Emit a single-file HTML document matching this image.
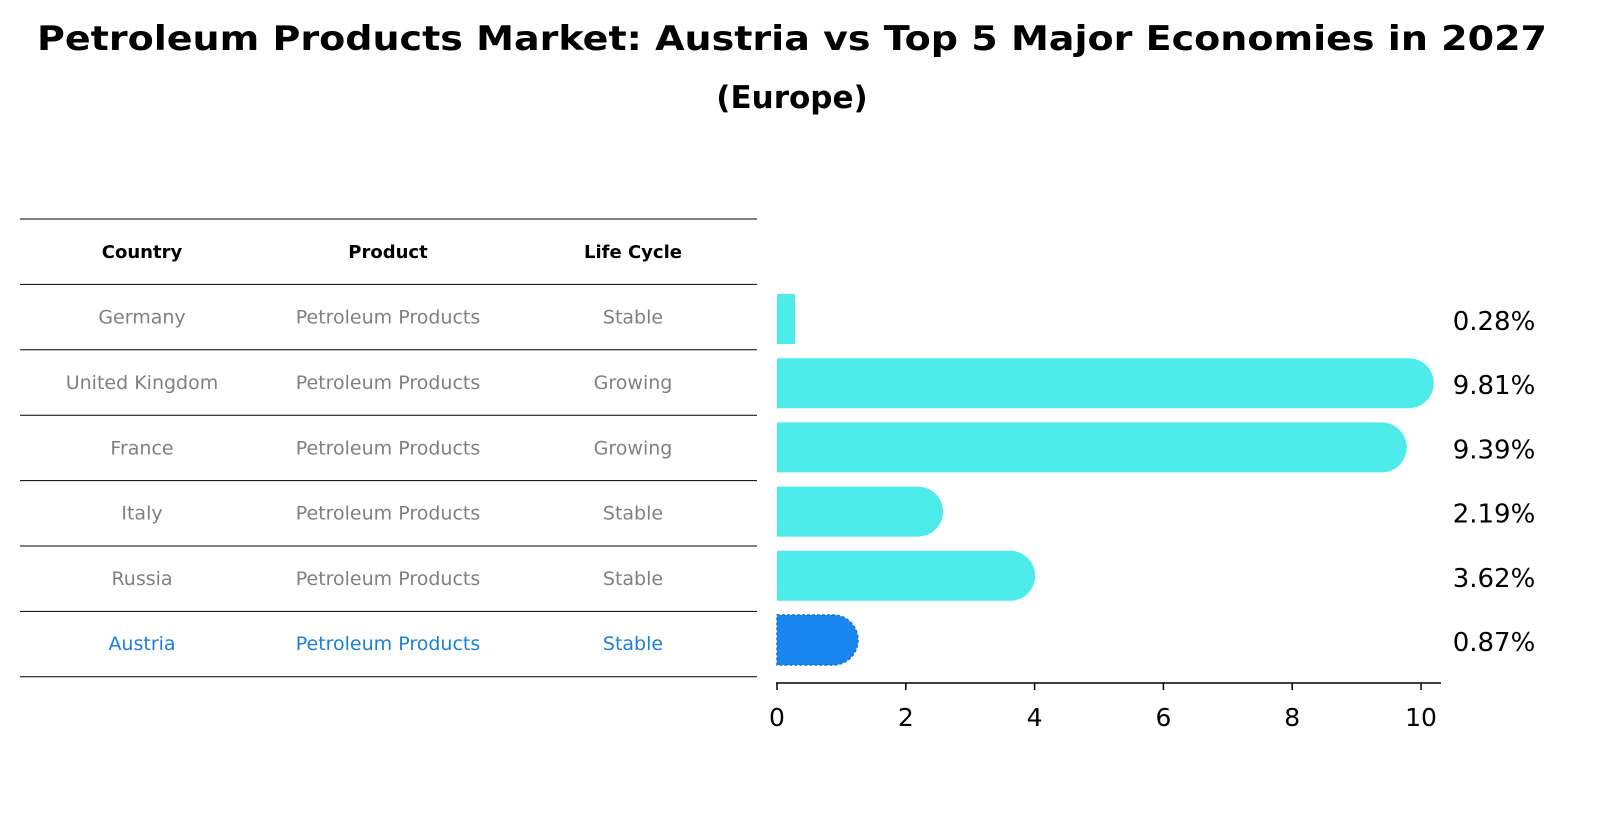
<!DOCTYPE html>
<html><head><meta charset="utf-8"><style>
body{margin:0;background:#fff;font-family:"DejaVu Sans","Liberation Sans",sans-serif;}
svg text{font-family:"DejaVu Sans","Liberation Sans",sans-serif;}
</style></head><body>
<svg id="c" width="1598" height="823" xmlns="http://www.w3.org/2000/svg">
<text x="792" y="50" text-anchor="middle" font-size="34" font-weight="bold" textLength="1510" lengthAdjust="spacingAndGlyphs">Petroleum Products Market: Austria vs Top 5 Major Economies in 2027</text>
<text x="792" y="108" text-anchor="middle" font-size="31" font-weight="bold">(Europe)</text>
<g id="table"></g>
<g id="bars"></g>
</svg>
<script>
const countries=["Germany","United Kingdom","France","Italy","Russia","Austria"];
const products=["Petroleum Products","Petroleum Products","Petroleum Products","Petroleum Products","Petroleum Products","Petroleum Products"];
const lifecycle=["Stable","Growing","Growing","Stable","Stable","Stable"];
const values=[0.28,9.81,9.39,2.19,3.62,0.87];
const ticks=[0,2,4,6,8,10];
const NS="http://www.w3.org/2000/svg";
function mk(p,t,a){const e=document.createElementNS(NS,t);for(const k in a)e.setAttribute(k,a[k]);p.appendChild(e);return e;}
const tb=document.getElementById('table'),bg=document.getElementById('bars');
const rowY=i=>285+i*65.3;
const colX=[142,388,633];
for(let i=0;i<8;i++){const y=219+i*65.4;const l=mk(tb,'line',{x1:20,x2:757,y1:y,y2:y,stroke:'#000','stroke-width':1});

}
["Country","Product","Life Cycle"].forEach((h,j)=>{const t=mk(tb,'text',{x:colX[j],y:258,'text-anchor':'middle','font-size':18,'font-weight':'bold'});t.textContent=h;

});
countries.forEach((c,i)=>{const col=i===countries.length-1?'#1a80d8':'#808080';const cy=rowY(i)+32.7;
[c,products[i],lifecycle[i]].forEach((v,j)=>{const t=mk(tb,'text',{x:colX[j],y:cy+6,'text-anchor':'middle','font-size':19,fill:col});t.textContent=v;

});});
const x0=777,sx=64.4,xs=v=>x0+v*sx;
const by=i=>319+i*64.2,h=50,r=25;
values.forEach((v,i)=>{const last=i===values.length-1;const col=last?'#1a86f0':'#4deceb';const yc=by(i),xe=xs(v);
let d;
if(v>0.5){d=`M${x0},${yc-h/2}L${xe},${yc-h/2}A${r},${r} 0 0 1 ${xe},${yc+h/2}L${x0},${yc+h/2}Z`;}
else d=`M${x0},${yc-h/2}L${xe},${yc-h/2}L${xe},${yc+h/2}L${x0},${yc+h/2}Z`;
const p=mk(bg,'path',{d:d,fill:col});
if(last){p.setAttribute('stroke','#1a70d0');p.setAttribute('stroke-dasharray','3,2');p.setAttribute('stroke-width','1.5');}


const t=mk(bg,'text',{x:1494,y:yc+11,'text-anchor':'middle','font-size':26});t.textContent=v.toFixed(2)+'%';

});
const ax=mk(bg,'line',{x1:776,x2:1441,y1:683,y2:683,stroke:'#000','stroke-width':1.5});


ticks.forEach(t=>{const x=xs(t);const l=mk(bg,'line',{x1:x,x2:x,y1:683,y2:690,stroke:'#000','stroke-width':1.5});


const tx=mk(bg,'text',{x:x,y:726,'text-anchor':'middle','font-size':25});tx.textContent=t;

});
</script>
</body></html>
